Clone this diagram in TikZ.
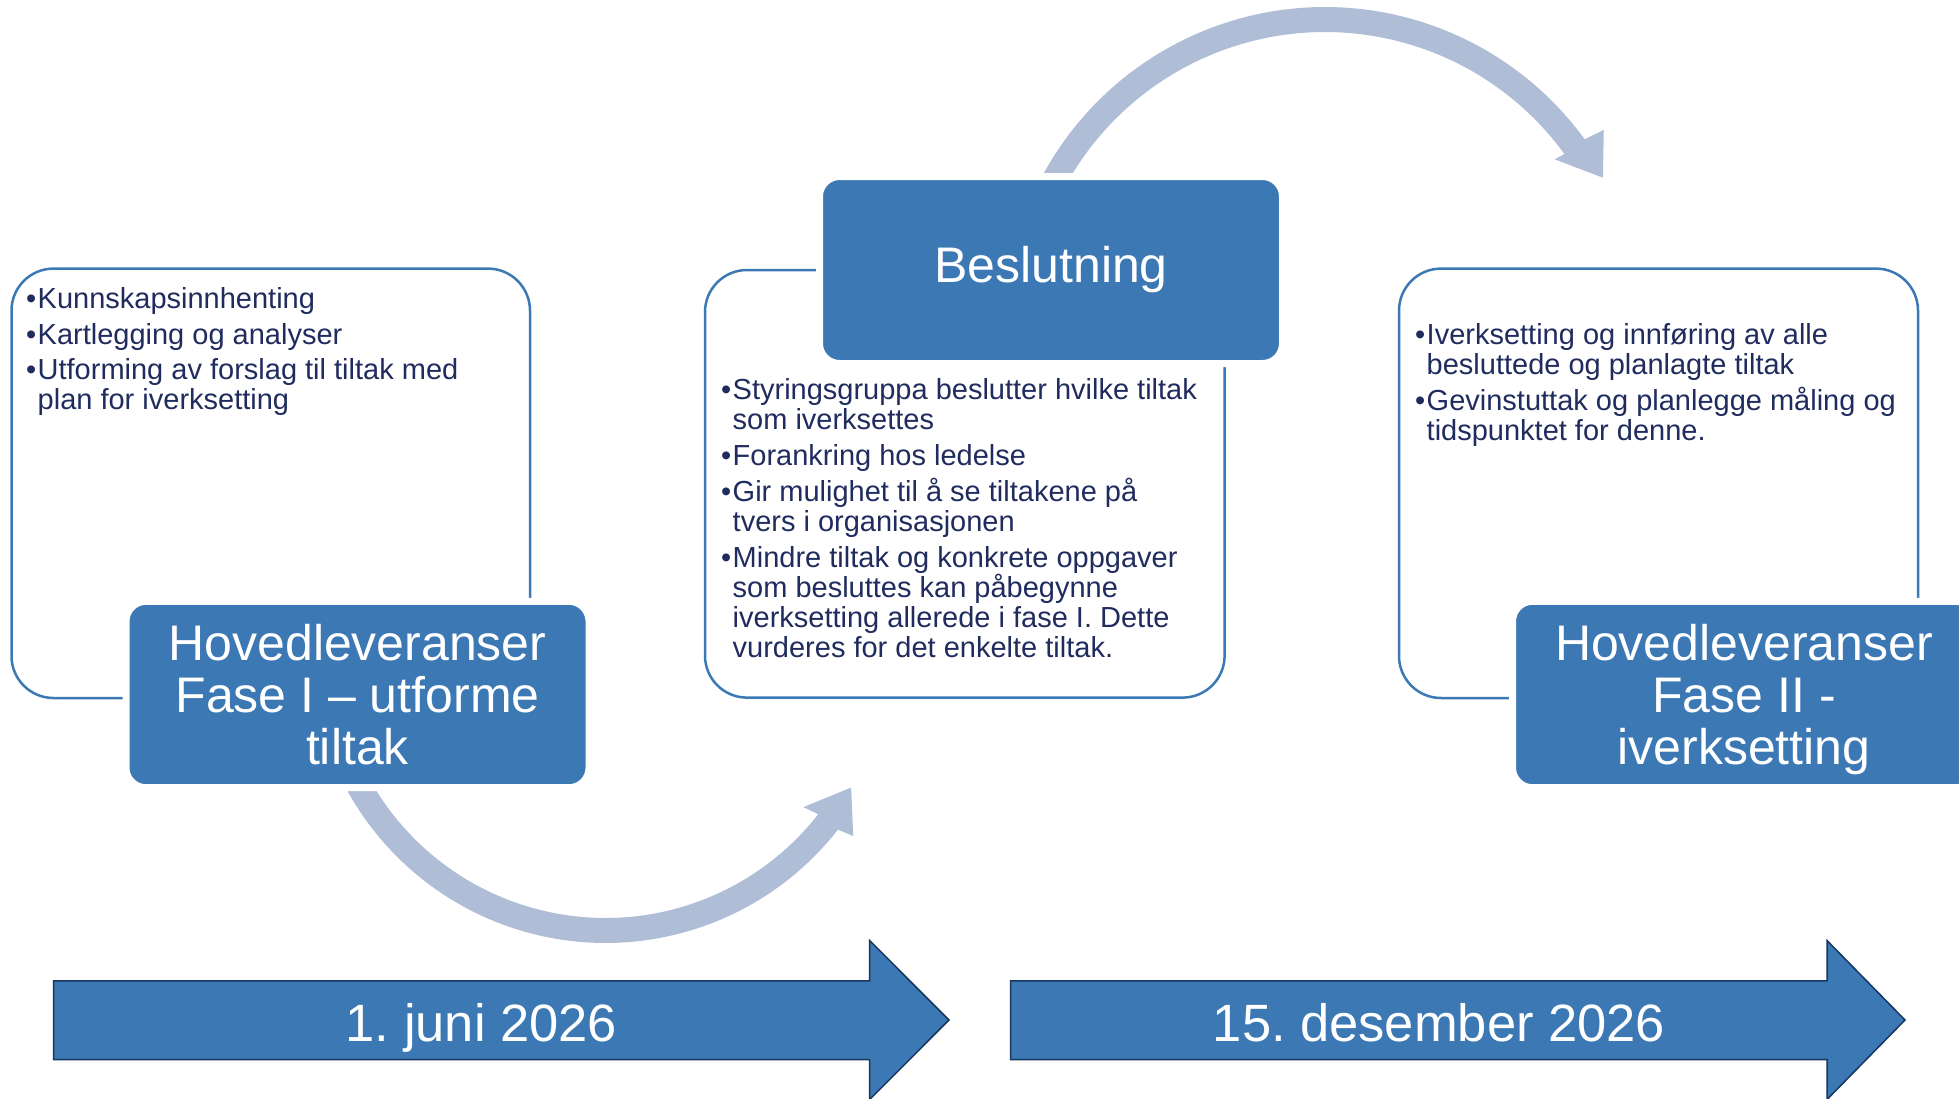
\documentclass[tikz,border=0pt]{standalone}
\usepackage{fontspec}
\setmainfont{Liberation Sans}
\frenchspacing
\definecolor{sblue}{HTML}{3C78B4}
\definecolor{sarc}{HTML}{AFBDD7}
\definecolor{snavy}{HTML}{202C5E}
\definecolor{sdark}{HTML}{17375E}
\newcommand{\bl}{\makebox[11.5pt][l]{\textbullet}}
\newcommand{\ind}{\hspace*{11.5pt}}
\newcommand{\nodepth}[1]{\raisebox{0pt}[\height][0pt]{#1}}
\tikzset{
  whitebox/.style={draw=sblue, line width=2.5pt, fill=white, rounded corners=42pt, inner sep=0pt},
  bluebox/.style={draw=white, line width=7pt, fill=sblue, rounded corners=20pt, text=white,
    align=center, font=\fontsize{50}{51.7}\selectfont, inner sep=0pt},
  bullets/.style={anchor=north west, inner sep=0pt, align=left, text=snavy,
    font=\fontsize{29}{30}\selectfont},
  datearrow/.style={fill=sblue, draw=sdark, line width=1.5pt, line join=miter},
  datelabel/.style={text=white, font=\fontsize{52.5}{60}\selectfont, anchor=base, inner sep=0pt},
  arcarrow/.style={fill=sarc}
}
\begin{document}
\begin{tikzpicture}[x=1pt,y=-1pt]
\useasboundingbox (0,0) rectangle (1959,1098);
\clip (0,0) rectangle (1959,1098);
\fill[white] (0,0) rectangle (1959,1098);

% curved arrows
\fill[arcarrow] plot[domain=160:38, samples=90] ({605.5+295*cos(\x)},{648+295*sin(\x)})
  -- ({605.5+311*cos(37.2)},{648+311*sin(37.2)})
  -- ({605.5+282.5*cos(29.6)},{648+282.5*sin(29.6)})
  -- ({605.5+254*cos(38.8)},{648+254*sin(38.8)})
  -- plot[domain=38:160, samples=90] ({605.5+270*cos(\x)},{648+270*sin(\x)}) -- cycle;
\fill[arcarrow] plot[domain=-155:-36, samples=90] ({1325+321*cos(\x)},{328+321*sin(\x)})
  -- ({1325+342*cos(-35.4)},{328+342*sin(-35.4)})
  -- ({1325+316*cos(-28.4)},{328+316*sin(-28.4)})
  -- ({1325+285*cos(-36.3)},{328+285*sin(-36.3)})
  -- plot[domain=-36:-155, samples=90] ({1325+296*cos(\x)},{328+296*sin(\x)}) -- cycle;

% white content boxes
\node[whitebox, minimum width=518.5pt, minimum height=429.4pt] (w1) at (270.75,483.3) {};
\node[whitebox, minimum width=519.6pt, minimum height=427.6pt] (w2) at (964.8,483.8) {};
\node[whitebox, minimum width=519pt, minimum height=429.4pt] (w3) at (1658.5,483.3) {};

% blue title boxes
\node[bluebox, minimum width=463pt, minimum height=186.4pt] (b1) at (357.5,694.5)
  {Hovedleveranser\\Fase I – utforme\\tiltak};
\node[bluebox, minimum width=463pt, minimum height=187pt] (b2) at (1051,270) {Beslutning};
\node[bluebox, minimum width=463pt, minimum height=186.4pt] (b3) at (1744,694.5)
  {Hovedleveranser\\Fase II -\\\nodepth{iverksetting}};

% bullet texts
\node[bullets] (t1) at (26,287.2) {\bl Kunnskapsinnhenting\\[6pt]
  \bl Kartlegging og analyser\\[5pt]
  \bl Utforming av forslag til tiltak med\\
  \ind plan for iverksetting};
\node[bullets] (t2) at (721,378) {\bl Styringsgruppa beslutter hvilke tiltak\\
  \ind som iverksettes\\[6pt]
  \bl Forankring hos ledelse\\[6pt]
  \bl Gir mulighet til å se tiltakene på\\
  \ind tvers i organisasjonen\\[6pt]
  \bl Mindre tiltak og konkrete oppgaver\\
  \ind som besluttes kan påbegynne\\
  \ind iverksetting allerede i fase I. Dette\\
  \ind vurderes for det enkelte tiltak.};
\node[bullets] (t3) at (1415,323.7) {\bl Iverksetting og innføring av alle\\
  \ind besluttede og planlagte tiltak\\[6pt]
  \bl Gevinstuttak og planlegge måling og\\
  \ind tidspunktet for denne.};

% date arrows
\path[datearrow] (53.5,980.8) -- (869.6,980.8) -- (869.6,940.5) -- (949,1020)
  -- (869.6,1099.5) -- (869.6,1059.5) -- (53.5,1059.5) -- cycle;
\path[datearrow] (1010.5,980.8) -- (1827,980.8) -- (1827,940.5) -- (1905,1020)
  -- (1827,1099.5) -- (1827,1059.5) -- (1010.5,1059.5) -- cycle;
\node[datelabel] (d1) at (481.5,1041.5) {1. juni 2026};
\node[datelabel] (d2) at (1439,1041.5) {15. desember 2026};
\end{tikzpicture}
\end{document}
